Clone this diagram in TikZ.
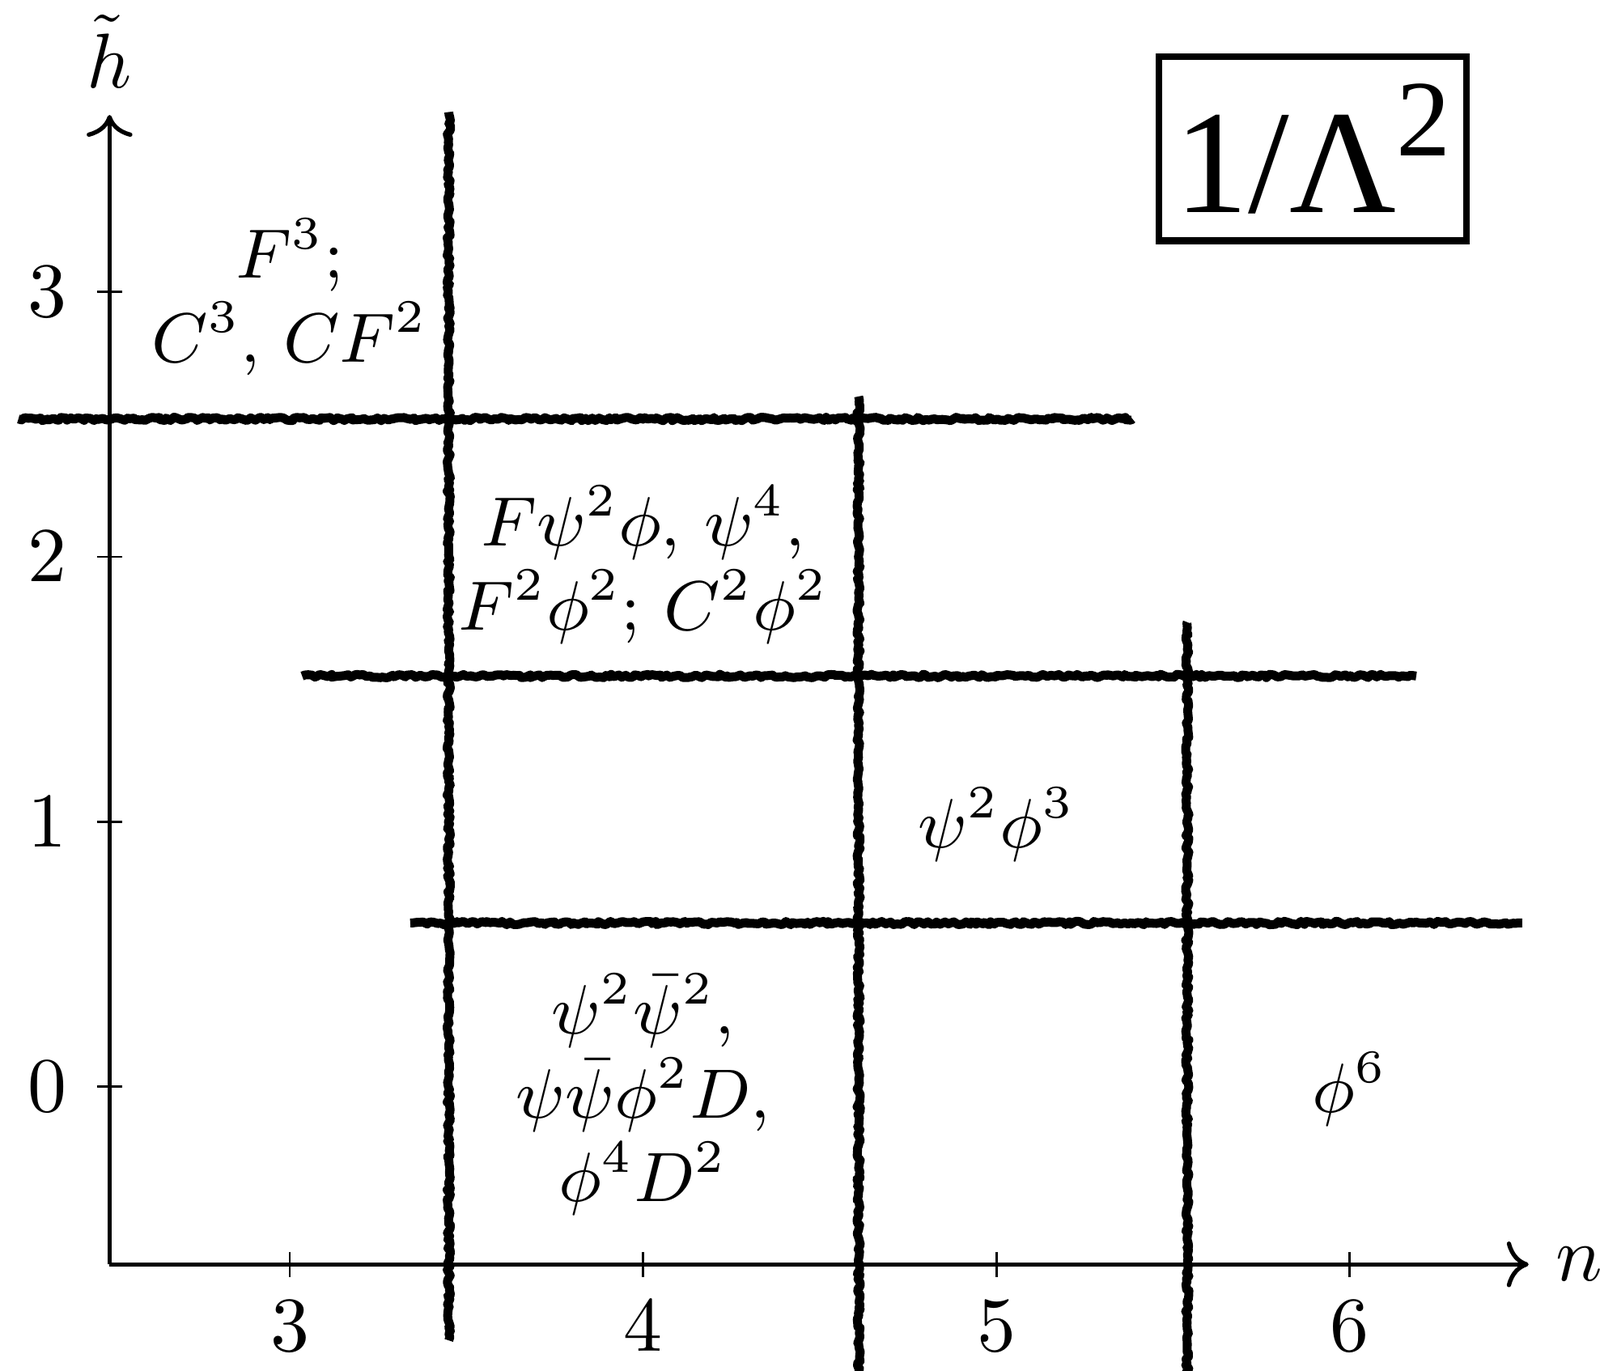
\documentclass[tikz,border=0pt]{standalone}
\usepackage{amsmath}
\usepackage{fontspec}
\newfontfamily\timesfont{Liberation Serif}
\usetikzlibrary{decorations.pathmorphing}
\usetikzlibrary{arrows.meta}
\tikzset{
    roughline/.style={
        line width=1.15pt,
        line join=round,
        black,
        decorate,
        decoration={random steps, segment length=0.4pt, amplitude=0.22pt}
    },
    % axes and ticks
    axisline/.style={
        line width=0.55pt,
        black,
        ->
    },
    tickline/.style={
        line width=0.3pt,
        black
    },
    opslabel/.style={
        align=center,
        font=\fontsize{8.8}{10.8}\selectfont
    }
}

\begin{document}
\begin{tikzpicture}[x=1.6cm,y=1.2cm]
    \clip (2.180,-1.072) rectangle (6.708,4.101);

    \coordinate (o) at (2.49,-0.67);
    \coordinate (xend) at (6.506,-0.67);
    \coordinate (yend) at (2.49,3.667);
    \draw[axisline] (o) -- (xend);
    \draw[axisline] (o) -- (yend);
    \node[right] (nlab) at (xend) {$n$};
    \node[above] (hlab) at (yend) {$\tilde{h}$};

    \draw[tickline] (3,-0.67) ++(0,1.6pt) -- ++(0,-3.2pt);
    \draw[tickline] (4,-0.67) ++(0,1.6pt) -- ++(0,-3.2pt);
    \draw[tickline] (5,-0.67) ++(0,1.6pt) -- ++(0,-3.2pt);
    \draw[tickline] (6,-0.67) ++(0,1.6pt) -- ++(0,-3.2pt);
    \node[below=1.2pt] (xt3) at (3,-0.67) {$3$};
    \node[below=1.2pt] (xt4) at (4,-0.67) {$4$};
    \node[below=1.2pt] (xt5) at (5,-0.67) {$5$};
    \node[below=1.2pt] (xt6) at (6,-0.67) {$6$};

    \draw[tickline] (2.49,0) ++(-1.6pt,0) -- ++(3.2pt,0);
    \draw[tickline] (2.49,1) ++(-1.6pt,0) -- ++(3.2pt,0);
    \draw[tickline] (2.49,2) ++(-1.6pt,0) -- ++(3.2pt,0);
    \draw[tickline] (2.49,3) ++(-1.6pt,0) -- ++(3.2pt,0);
    \node[left=2pt] (yt0) at (2.49,0) {$0$};
    \node[left=2pt] (yt1) at (2.49,1) {$1$};
    \node[left=2pt] (yt2) at (2.49,2) {$2$};
    \node[left=2pt] (yt3) at (2.49,3) {$3$};

    % region borders
    \draw[roughline] (3.45,-0.957) -- (3.45,3.678);
    \draw[roughline] (4.61,-1.3) -- (4.61,2.605);
    \draw[roughline] (5.54,-1.3) -- (5.54,1.753);
    \draw[roughline] (2.232,2.52) -- (5.385,2.52);
    \draw[roughline] (3.035,1.55) -- (6.188,1.55);
    \draw[roughline] (3.341,0.618) -- (6.488,0.618);

    % operator classes
    \node[opslabel] (topops) at (3,2.98) {$F^3;$\\$C^3$, $CF^2$};
    \node[opslabel] (midops) at (4,1.97) {$F\psi^2\phi$, $\psi^4$,\\$F^2\phi^2$; $C^2\phi^2$};
    \node[opslabel] (lowops) at (4,-0.03) {$\psi^2\bar{\psi}^2$,\\$\psi\bar{\psi}\phi^2D$,\\$\phi^4D^2$};
    \node[opslabel] (psiphi) at (5,0.99) {$\psi^2\phi^3$};
    \node[opslabel] (phisix) at (6,-0.01) {$\phi^6$};

    \node[draw, line width=0.85pt, inner xsep=2pt, inner ysep=3.5pt,
          font=\timesfont\fontsize{19}{23}\selectfont] (order) at (5.895,3.54)
          {1/Λ\raisebox{7.3pt}{\fontsize{14}{14}\selectfont 2}};
\end{tikzpicture}
\end{document}
